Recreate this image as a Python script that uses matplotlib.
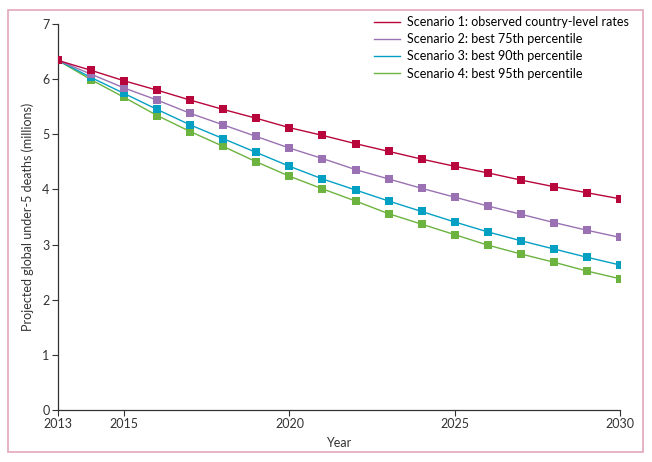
import matplotlib
matplotlib.use('Agg')
import matplotlib.pyplot as plt
from matplotlib.patches import Rectangle

plt.rcParams.update({
    'font.family': ['Lato', 'DejaVu Sans'],
    'font.size': 9,
    'axes.spines.top': False,
    'axes.spines.right': False,
})

years = list(range(2013, 2031))
scenario_labels = [
    'Scenario 1: observed country-level rates',
    'Scenario 2: best 75th percentile',
    'Scenario 3: best 90th percentile',
    'Scenario 4: best 95th percentile',
]
s1 = [6.34, 6.16, 5.97, 5.80, 5.62, 5.45, 5.29, 5.12, 4.98, 4.83, 4.69, 4.55,
      4.42, 4.30, 4.17, 4.05, 3.94, 3.83]
s2 = [6.34, 6.09, 5.84, 5.62, 5.38, 5.17, 4.96, 4.75, 4.56, 4.36, 4.19, 4.02,
      3.86, 3.70, 3.55, 3.40, 3.26, 3.13]
s3 = [6.34, 6.03, 5.74, 5.45, 5.17, 4.92, 4.67, 4.42, 4.19, 3.99, 3.79, 3.60,
      3.41, 3.23, 3.07, 2.92, 2.77, 2.63]
s4 = [6.34, 5.99, 5.67, 5.34, 5.05, 4.78, 4.50, 4.24, 4.01, 3.79, 3.56, 3.37,
      3.18, 2.99, 2.83, 2.68, 2.52, 2.38]
colors = ['#b8063c', '#9a72b3', '#04a0c4', '#6cb33f']

fig = plt.figure(figsize=(6.52, 4.62), dpi=100)
# pink frame around the whole panel
fig.patches.append(Rectangle((8 / 652, 10 / 462), 635 / 652, 442 / 462,
                             transform=fig.transFigure, fill=False,
                             edgecolor='#e3a7bb', linewidth=1.2))

ax = fig.add_axes([58 / 652, 1 - 410 / 462, 562 / 652, 386 / 462])

# draw scenario 4 first so scenario 1 sits on top
series = [s1, s2, s3, s4]
for vals, col in reversed(list(zip(series, colors))):
    ax.plot(years, vals, color=col, linewidth=1.0, marker='s',
            markersize=5.5, markeredgewidth=0, zorder=3)

# legend: lines only
handles = [plt.Line2D([], [], color=c, linewidth=1.0) for c in colors]
ax.legend(handles, scenario_labels, loc='upper right', frameon=False,
          bbox_to_anchor=(1.035, 1.05), handlelength=2.1, handletextpad=0.5,
          labelspacing=0.42, fontsize=9)

ax.set_xlim(2013, 2030)
ax.set_ylim(0, 7)
ax.set_xticks([2013, 2015, 2020, 2025, 2030])
ax.set_yticks(range(0, 8))
for s in ['left', 'bottom']:
    ax.spines[s].set_color('#333333')
    ax.spines[s].set_linewidth(0.9)
ax.tick_params(colors='#333333', labelcolor='#333333', length=4, width=0.8,
               labelsize=9, pad=2)
ax.set_xlabel('Year', fontsize=9, color='#333333', labelpad=5)
ax.set_ylabel('Projected global under-5 deaths (millions)', fontsize=9,
              color='#333333', labelpad=6)

fig.savefig('out.png', dpi=100)
